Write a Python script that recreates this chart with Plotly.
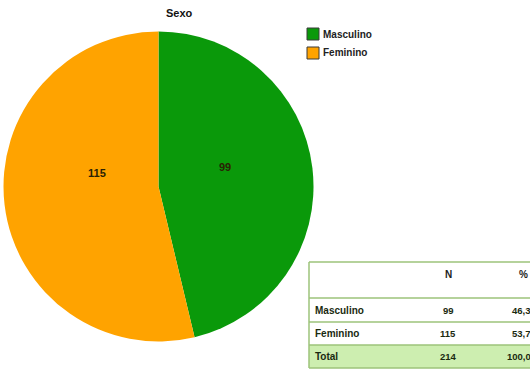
import plotly.graph_objects as go

# Data
categories = ["Masculino", "Feminino"]
counts = [99, 115]
slice_colors = ["#0a990a", "#ffa300"]
title_text = "Sexo"
table_header = ["", "N", "%"]
total_label = "Total"

W, H = 530, 371
FONT = "Liberation Sans, Arial, sans-serif"


def px(x):
    return x / W


def py(y):
    return 1 - y / H


total = sum(counts)
pct = [f"{100 * c / total:.1f}".replace(".", ",") for c in counts]
row_labels = categories + [total_label]
row_n = [str(c) for c in counts] + [str(total)]
row_pct = pct + [f"{100.0:.1f}".replace(".", ",")]

fig = go.Figure()

fig.add_trace(go.Pie(
    labels=categories,
    values=counts,
    marker=dict(colors=slice_colors, line=dict(width=0)),
    sort=False,
    direction="clockwise",
    rotation=0,
    textinfo="none",
    hoverinfo="label+value+percent",
    showlegend=False,
    domain=dict(x=[px(3.5), px(313.5)], y=[py(341.5), py(31.5)]),
))

annotations = []
shapes = []

# Title
annotations.append(dict(
    x=px(179), y=py(13), xref="paper", yref="paper", text="<b>" + title_text + "</b>",
    showarrow=False, font=dict(family=FONT, size=11, color="#111"),
    xanchor="center", yanchor="middle"))

# Slice value labels
label_pos = [(225, 167), (97, 173)]
for (lx, ly), v in zip(label_pos, counts):
    annotations.append(dict(
        x=px(lx), y=py(ly), xref="paper", yref="paper", text=f"<b>{v}</b>",
        showarrow=False, font=dict(family=FONT, size=11, color="#2a2205"),
        xanchor="center", yanchor="middle"))

# Legend
legend_rows = [34, 53]
for name, col, yy in zip(categories, slice_colors, legend_rows):
    shapes.append(dict(type="rect", xref="paper", yref="paper",
                       x0=px(307), x1=px(319), y0=py(yy - 6), y1=py(yy + 6),
                       fillcolor=col, line=dict(width=1, color="#3a3a3a")))
    annotations.append(dict(
        x=px(321), y=py(yy), xref="paper", yref="paper", text="<b>" + name + "</b>",
        showarrow=False, font=dict(family=FONT, size=10, color="#222"),
        xanchor="left", yanchor="middle"))

# Summary table
line_col = "#9dc37a"
t_left, t_right = 309, 620
row_edges = [262, 298, 322, 345, 368]
shapes.append(dict(type="rect", xref="paper", yref="paper", layer="below",
                   x0=px(t_left), x1=px(t_right), y0=py(row_edges[4]), y1=py(row_edges[3]),
                   fillcolor="#cdeeb0", line=dict(width=0)))
for e in row_edges:
    shapes.append(dict(type="line", xref="paper", yref="paper",
                       x0=px(t_left), x1=px(t_right), y0=py(e), y1=py(e),
                       line=dict(color=line_col, width=1.5)))
shapes.append(dict(type="line", xref="paper", yref="paper",
                   x0=px(t_left), x1=px(t_left), y0=py(row_edges[0]), y1=py(row_edges[-1]),
                   line=dict(color=line_col, width=1.5)))

col_n_x, col_pct_x = 448, 533
head_y = 282
annotations.append(dict(x=px(col_n_x), y=py(head_y), xref="paper", yref="paper",
                        text="<b>" + table_header[1] + "</b>", showarrow=False,
                        font=dict(family=FONT, size=10, color="#222"), xanchor="center"))
annotations.append(dict(x=px(523), y=py(head_y), xref="paper", yref="paper",
                        text="<b>" + table_header[2] + "</b>", showarrow=False,
                        font=dict(family=FONT, size=10, color="#222"), xanchor="center"))
for i, (lab, n, p) in enumerate(zip(row_labels, row_n, row_pct)):
    yc = (row_edges[i + 1] + row_edges[i + 2]) / 2
    annotations.append(dict(x=px(313), y=py(yc), xref="paper", yref="paper",
                            text="<b>" + lab + "</b>", showarrow=False,
                            font=dict(family=FONT, size=10, color="#1a2a10"),
                            xanchor="left", yanchor="middle"))
    annotations.append(dict(x=px(col_n_x), y=py(yc), xref="paper", yref="paper",
                            text="<b>" + n + "</b>", showarrow=False,
                            font=dict(family=FONT, size=9.5, color="#1a2a10"),
                            xanchor="center", yanchor="middle"))
    annotations.append(dict(x=px(col_pct_x), y=py(yc), xref="paper", yref="paper",
                            text="<b>" + p + "</b>", showarrow=False,
                            font=dict(family=FONT, size=9.5, color="#1a2a10"),
                            xanchor="right", yanchor="middle"))

fig.update_layout(
    width=W, height=H,
    margin=dict(l=0, r=0, t=0, b=0),
    paper_bgcolor="white",
    plot_bgcolor="white",
    annotations=annotations,
    shapes=shapes,
    showlegend=False,
)

fig.write_html("out.html")
